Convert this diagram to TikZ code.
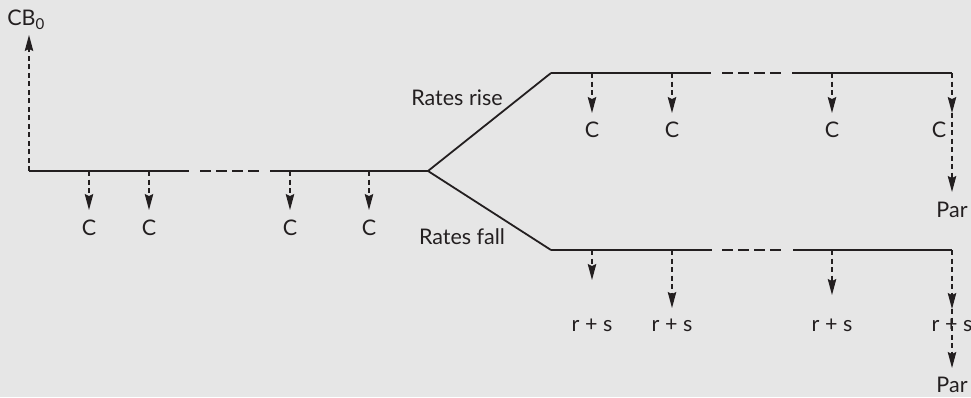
\documentclass[tikz,border=0pt]{standalone}
\usepackage{fontspec}
\setmainfont{Lato}
\usetikzlibrary{arrows.meta}
\definecolor{bggray}{RGB}{230,230,230}
\definecolor{inkdark}{RGB}{35,31,32}

\begin{document}
\begin{tikzpicture}[x=1pt,y=-1pt,
      flow/.style={line width=1.8pt, draw=inkdark},
      gapline/.style={line width=1.8pt, draw=inkdark, dash pattern=on 11pt off 5pt},
      pay/.style={line width=1.1pt, draw=inkdark, dash pattern=on 5pt off 3.5pt,
                  -{Stealth[length=16pt,width=8.5pt,inset=2pt]}},
      lbl/.style={inner sep=0pt, text=inkdark, font=\fontsize{21.5}{25}\selectfont}]
      % canvas
      \fill[bggray] (0,0) rectangle (971,397);
      \useasboundingbox (0,0) rectangle (971,397);

      % Today: bond price CB_0
      \coordinate (o) at (29,171);
      \coordinate (cbh) at (29,35);
      \node[lbl] (cb) at (26,20) {CB\textsubscript{0}};
      \draw[pay] (o) -- (cbh);

      % First stretch of the time line (solid, gap, solid) up to the branch
      \coordinate (m1) at (189,171);  \coordinate (m2) at (200,171);
      \coordinate (m3) at (260,171);  \coordinate (m4) at (270,171);
      \coordinate (br) at (428,171);
      \draw[flow] (o) -- (m1);
      \draw[gapline] (m2) -- (m3);
      \draw[flow] (m4) -- (br);

      % Coupons before the branch
      \foreach \x [count=\i] in {89,149,290,369}{
        \coordinate (mt\i) at (\x,171);
        \coordinate (mh\i) at (\x,210);
        \node[lbl] (mC\i) at (\x,228) {C};
        \draw[pay] (mt\i) -- (mh\i);
      }

      % Branches
      \coordinate (u0) at (551,73);  \coordinate (l0) at (551,250);
      \draw[flow] (br) -- (u0);
      \draw[flow] (br) -- (l0);
      \node[lbl] (rise) at (457,98) {Rates rise};
      \node[lbl] (fall) at (462,237) {Rates fall};

      % Rates rise: upper line
      \coordinate (u1) at (711,73);  \coordinate (u2) at (722,73);
      \coordinate (u3) at (782,73);  \coordinate (u4) at (792,73);
      \coordinate (u5) at (952,73);
      \draw[flow] (u0) -- (u1);
      \draw[gapline] (u2) -- (u3);
      \draw[flow] (u4) -- (u5);
      \foreach \x [count=\i] in {592,672,832}{
        \coordinate (ut\i) at (\x,73);
        \coordinate (uh\i) at (\x,113);
        \node[lbl] (uC\i) at (\x,130) {C};
        \draw[pay] (ut\i) -- (uh\i);
      }
      % last coupon plus par at maturity
      \coordinate (uh4) at (952,113);
      \coordinate (uhp) at (952,192);
      \node[lbl] (uC4) at (939,130) {C};
      \node[lbl] (upar) at (952,210) {Par};
      \draw[pay] (u5) -- (uh4);
      \draw[pay] (uh4) -- (uhp);

      % Rates fall: lower line
      \coordinate (l1) at (712,250);  \coordinate (l2) at (722,250);
      \coordinate (l3) at (782,250);  \coordinate (l4) at (793,250);
      \coordinate (l5) at (952,250);
      \draw[flow] (l0) -- (l1);
      \draw[gapline] (l2) -- (l3);
      \draw[flow] (l4) -- (l5);
      \foreach \x/\tip [count=\i] in {592/280,672/308,832/295}{
        \coordinate (lt\i) at (\x,250);
        \coordinate (lh\i) at (\x,\tip);
        \node[lbl] (lR\i) at (\x,325) {r + s};
        \draw[pay] (lt\i) -- (lh\i);
      }
      % last payment plus par at maturity
      \coordinate (lh4) at (952,309);
      \coordinate (lhp) at (952,368);
      \node[lbl] (lR4) at (952,325) {r + s};
      \node[lbl] (lpar) at (952,385) {Par};
      \draw[pay] (l5) -- (lh4);
      \draw[pay] (lh4) -- (lhp);
    \end{tikzpicture}
\end{document}
